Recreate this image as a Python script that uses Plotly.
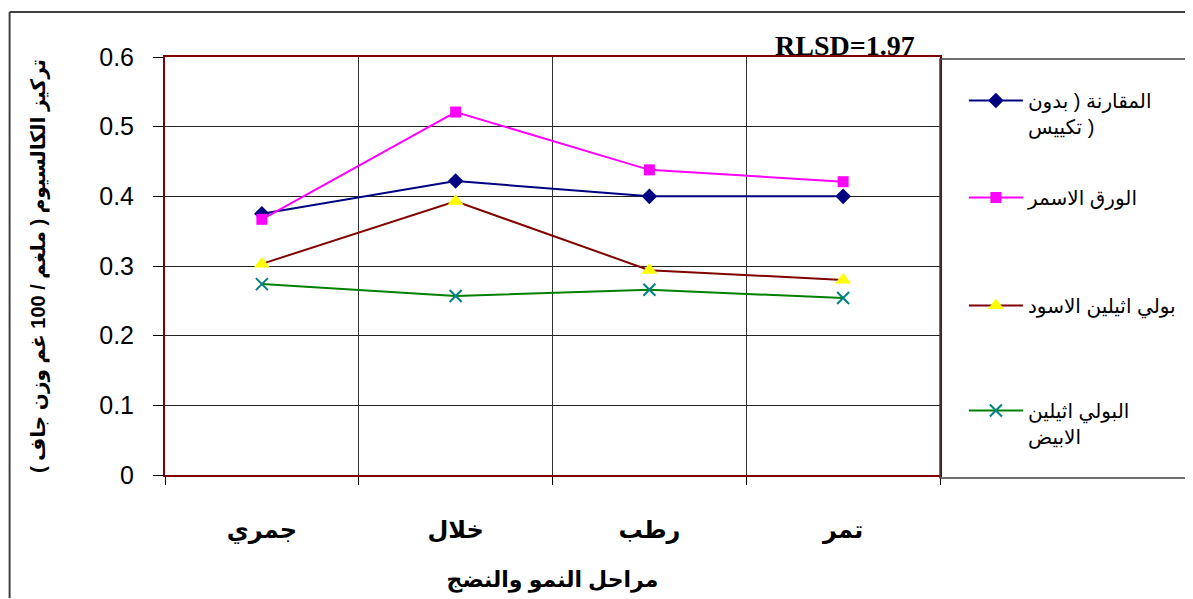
import plotly.graph_objects as go

categories = ["جمري", "خلال", "رطب", "تمر"]
control = [0.375, 0.422, 0.400, 0.400]
brown_paper = [0.367, 0.521, 0.438, 0.421]
black_pe = [0.303, 0.393, 0.294, 0.280]
white_pe = [0.274, 0.257, 0.266, 0.254]
series_names = ["المقارنة ( بدون<br>تكييس )", "الورق الاسمر", "بولي اثيلين الاسود", "البولي اثيلين<br>الابيض"]
y_ticks = [0, 0.1, 0.2, 0.3, 0.4, 0.5, 0.6]

OFF = 8  # default page body margin
W, H = 1193 - OFF, 599 - OFF
# plot area in page pixels: x 165..943, y 57..475
L, T = 165 - OFF, 57 - OFF
R, B = W - (943 - OFF), H - (475 - OFF)
PW, PH = W - L - R, H - T - B


def px_x(px):
    return (px - OFF - L) / PW


def px_y(py):
    return (H - B - (py - OFF)) / PH


FONT = "Arial, 'Liberation Sans', 'DejaVu Sans', sans-serif"

fig = go.Figure()

styles = [
    dict(line=dict(color="#000080", width=2),
         marker=dict(symbol="diamond", size=12, color="#000080")),
    dict(line=dict(color="#FF00FF", width=2),
         marker=dict(symbol="square", size=11, color="#FF00FF")),
    dict(line=dict(color="#800000", width=2),
         marker=dict(symbol="triangle-up", size=14, color="#FFFF00")),
    dict(line=dict(color="#008000", width=2),
         marker=dict(symbol="x-thin", size=12, color="#008080",
                     line=dict(color="#008080", width=2))),
]
series = [control, brown_paper, black_pe, white_pe]
legend_ids = ["legend", "legend2", "legend3", "legend4"]
for name, vals, st, lg in zip(series_names, series, styles, legend_ids):
    fig.add_trace(go.Scatter(x=categories, y=vals, name=name, mode="lines+markers",
                             legend=lg, **st))

legend_tops = [81, 178, 286, 391]
common_leg = dict(font=dict(family=FONT, size=20, color="#000000"),
                  bgcolor="rgba(0,0,0,0)", borderwidth=0,
                  xanchor="left", yanchor="top", valign="top",
                  itemwidth=54, tracegroupgap=0)
layout_legends = {}
for lg, top in zip(legend_ids, legend_tops):
    layout_legends[lg] = dict(x=px_x(967), y=px_y(top), **common_leg)

fig.update_layout(
    width=W, height=H,
    margin=dict(l=L, r=R, t=T, b=B, pad=0),
    paper_bgcolor="#FFFFFF", plot_bgcolor="#FFFFFF",
    showlegend=True,
    font=dict(family=FONT, color="#000000"),
    xaxis=dict(
        type="category", range=[-0.5, 3.5],
        tickson="boundaries", ticks="outside", ticklen=8, tickcolor="#000000",
        showgrid=True, gridcolor="#333333", gridwidth=1,
        showline=True, linecolor="#800000", linewidth=2, mirror=True,
        tickfont=dict(family=FONT, size=24, color="#000000", weight="bold"),
        ticklabelstandoff=32,
        title=dict(text="مراحل النمو والنضج", standoff=29,
                   font=dict(family=FONT, size=22, color="#000000", weight="bold")),
        zeroline=False, automargin=False,
    ),
    yaxis=dict(
        range=[0, 0.6], tickvals=y_ticks, ticktext=[str(v) if v else "0" for v in y_ticks],
        ticks="outside", ticklen=10, tickcolor="#000000",
        showgrid=True, gridcolor="#222222", gridwidth=1,
        showline=True, linecolor="#800000", linewidth=2, mirror=True,
        tickfont=dict(family=FONT, size=25, color="#000000"),
        ticklabelstandoff=14,
        title=dict(text="تركيز الكالسيوم ( ملغم / 100 غم وزن جاف )", standoff=48,
                   font=dict(family=FONT, size=20, color="#000000", weight="bold")),
        zeroline=False, automargin=False,
    ),
    annotations=[
        dict(text="<b>RLSD=1.97</b>", xref="paper", yref="paper",
             x=px_x(848), y=px_y(45), xanchor="center", yanchor="middle",
             showarrow=False,
             font=dict(family="'Times New Roman', 'Liberation Serif', serif", size=28, color="#000000")),
    ],
    shapes=[
        dict(type="rect", xref="paper", yref="paper", x0=px_x(943), x1=px_x(1192),
             y0=px_y(478), y1=px_y(59), line=dict(color="#404040", width=1.5),
             fillcolor="rgba(0,0,0,0)"),
        dict(type="line", xref="paper", yref="paper", x0=px_x(9), x1=px_x(1192),
             y0=px_y(12), y1=px_y(12), line=dict(color="#404040", width=2)),
        dict(type="line", xref="paper", yref="paper", x0=px_x(9), x1=px_x(9),
             y0=px_y(12), y1=px_y(598), line=dict(color="#404040", width=2)),
    ],
    **layout_legends,
)

fig.write_html("out.html")
